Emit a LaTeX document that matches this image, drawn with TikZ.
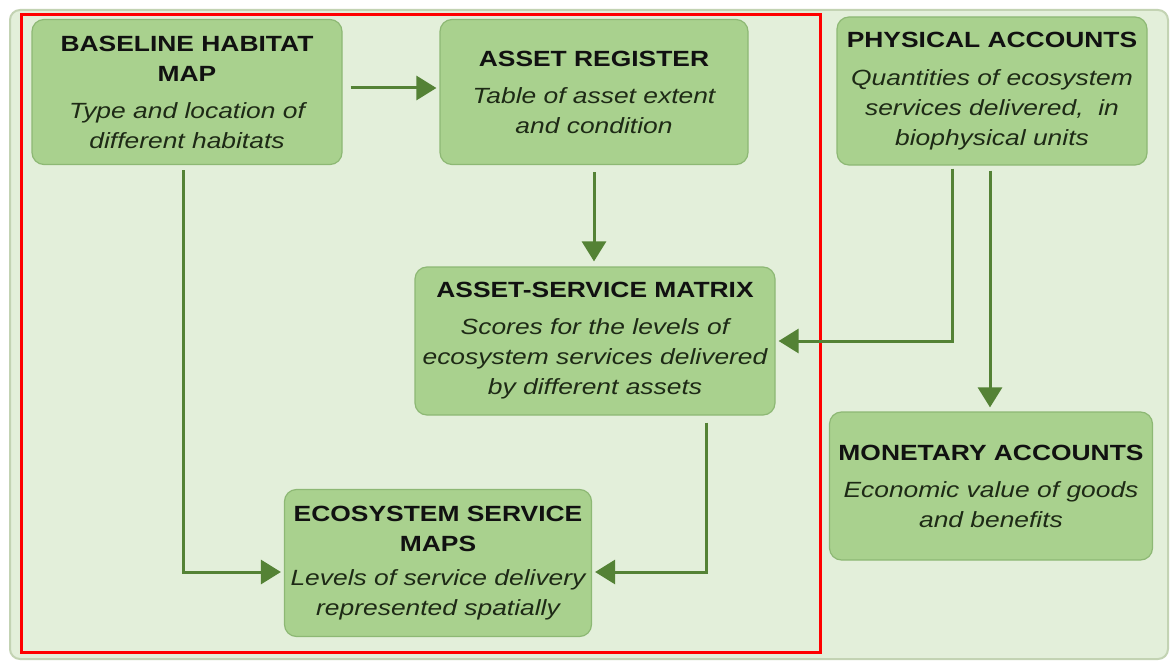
\documentclass[tikz,border=0pt]{standalone}
\usepackage{fontspec}
\setmainfont{Liberation Sans}[FakeStretch=1.2]
\usetikzlibrary{arrows.meta}
\definecolor{bgfill}{HTML}{E3EFDA}
\definecolor{bgline}{HTML}{C3D3B3}
\definecolor{boxfill}{HTML}{A9D18E}
\definecolor{boxline}{HTML}{8DB874}
\definecolor{arrgreen}{HTML}{548235}
\definecolor{ttl}{HTML}{111111}
\definecolor{sub}{HTML}{1E2A16}
\newcommand{\ttl}[1]{{\bfseries\color{ttl}#1}}
\newcommand{\sbt}[1]{{\itshape\color{sub}#1}}
\begin{document}
\begin{tikzpicture}[x=1pt,y=-1pt,
  box/.style={draw=boxline, fill=boxfill, rounded corners=12pt, line width=1.2pt,
    align=center, inner sep=0pt, font=\fontsize{22}{30}\selectfont},
  arr/.style={draw=arrgreen, line width=3pt,
    -{Triangle[length=20pt,width=24pt]}}]
\useasboundingbox (0,0) rectangle (1173,661);
\fill[white] (0,0) rectangle (1173,661);
\draw[bgline, fill=bgfill, rounded corners=10pt, line width=2pt] (10,10) rectangle (1168,659);
\draw[red, line width=3pt] (21,15) rectangle (820,652);

\node[box, minimum width=310pt, minimum height=145pt] (base) at (187,92)
  {\ttl{BASELINE HABITAT}\\\ttl{MAP}\\[7pt]\sbt{Type and location of}\\\sbt{different habitats}};
\node[box, minimum width=308pt, minimum height=145pt] (reg) at (594,92)
  {\ttl{ASSET REGISTER}\\[7pt]\sbt{Table of asset extent}\\\sbt{and condition}};
\node[box, minimum width=310pt, minimum height=148pt] (phys) at (992,91)
  {\ttl{PHYSICAL ACCOUNTS}\\[8pt]\sbt{Quantities of ecosystem}\\\sbt{services delivered,\ \ in}\\\sbt{biophysical units}};
\node[box, minimum width=360pt, minimum height=148pt] (matrix) at (595,341)
  {\ttl{ASSET-SERVICE MATRIX}\\[7pt]\sbt{Scores for the levels of}\\\sbt{ecosystem services delivered}\\\sbt{by different assets}};
\node[box, minimum width=307pt, minimum height=147pt] (eco) at (438,563)
  {\ttl{ECOSYSTEM SERVICE}\\\ttl{MAPS}\\[4pt]\sbt{Levels of service delivery}\\\sbt{represented spatially}};
\node[box, minimum width=323pt, minimum height=148pt] (mon) at (991,486)
  {\ttl{MONETARY ACCOUNTS}\\[7pt]\sbt{Economic value of goods}\\\sbt{and benefits}};

\draw[arr, shorten <=8pt, shorten >=3pt] ([yshift=4pt]base.east) -- ([yshift=4pt]reg.west);
\draw[arr, shorten <=7pt, shorten >=5pt] (reg.south) -- (reg.south |- matrix.north);
\draw[arr, shorten <=3pt, shorten >=3pt] ([xshift=-40pt]phys.south) |- (matrix.east);
\draw[arr, shorten <=5pt, shorten >=4pt] ([xshift=-2pt]phys.south) -- ([xshift=-2pt]phys.south |- mon.north);
\draw[arr, shorten <=5pt, shorten >=3pt] ([xshift=-4pt]base.south) |- ([yshift=-9pt]eco.west);
\draw[arr, shorten <=7pt, shorten >=3pt] ([xshift=111pt]matrix.south) |- ([yshift=-9pt]eco.east);
\end{tikzpicture}
\end{document}
